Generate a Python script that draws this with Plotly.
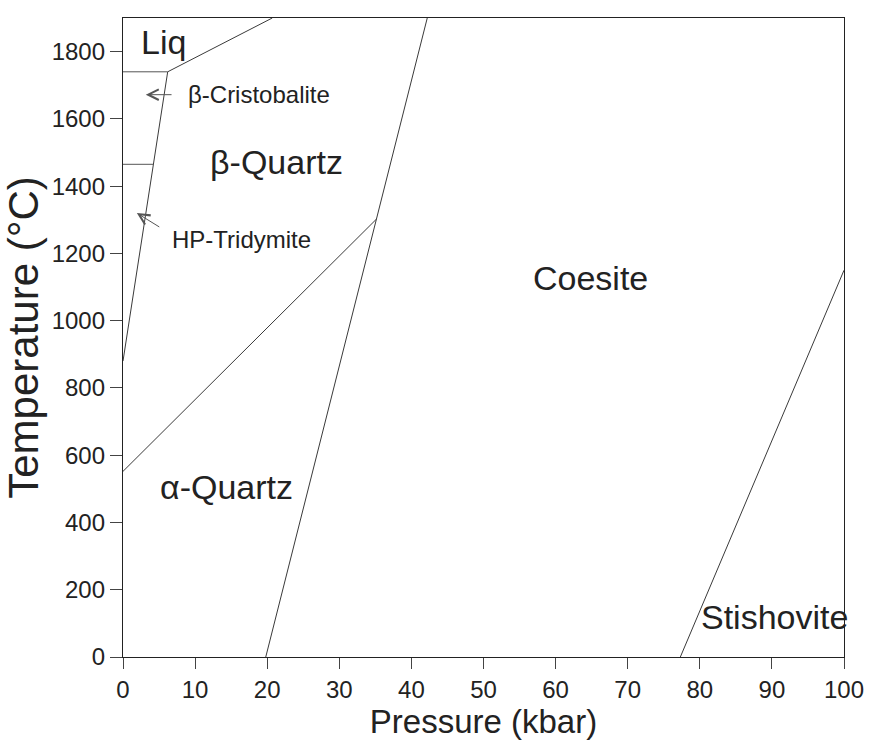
import plotly.graph_objects as go

# Phase boundaries (Pressure in kbar, Temperature in °C)
liq_P = [6.2, 20.7]
liq_T = [1740, 1900]
crist_liq_P = [0, 6.2]
crist_liq_T = [1740, 1740]
quartz_hi_P = [0, 6.2]
quartz_hi_T = [880, 1740]
trid_crist_P = [0, 4.2]
trid_crist_T = [1465, 1465]
alpha_beta_P = [0, 35.15]
alpha_beta_T = [552, 1302]
qz_coes_P = [19.8, 42.2]
qz_coes_T = [0, 1900]
coes_stish_P = [77.3, 100]
coes_stish_T = [0, 1150]

# Field labels
field_names = ["Liq", "β-Quartz", "Coesite", "α-Quartz", "Stishovite"]
field_P = [5.6, 21.3, 64.9, 14.4, 90.3]
field_T = [1829, 1471, 1127, 505, 120]

# Arrowed labels
small_names = ["β-Cristobalite", "HP-Tridymite"]
small_P = [8.78, 6.45]
small_T = [1673, 1242]
arrow_tip_P = [3.16, 1.92]
arrow_tip_T = [1672, 1320]
arrow_tail_P = [6.94, 5.24]
arrow_tail_T = [1672, 1276]

x_ticks = [0, 10, 20, 30, 40, 50, 60, 70, 80, 90, 100]
y_ticks = [0, 200, 400, 600, 800, 1000, 1200, 1400, 1600, 1800]

FONT = "Liberation Sans, Arial, sans-serif"

fig = go.Figure()
for P, T, c in [
    (liq_P, liq_T, "#3a3a3a"),
    (crist_liq_P, crist_liq_T, "#555555"),
    (quartz_hi_P, quartz_hi_T, "#3a3a3a"),
    (trid_crist_P, trid_crist_T, "#555555"),
    (alpha_beta_P, alpha_beta_T, "#3a3a3a"),
    (qz_coes_P, qz_coes_T, "#3a3a3a"),
    (coes_stish_P, coes_stish_T, "#3a3a3a"),
]:
    fig.add_trace(go.Scatter(x=P, y=T, mode="lines",
                             line=dict(color=c, width=1),
                             showlegend=False, hoverinfo="skip"))

annotations = []
for name, P, T in zip(field_names, field_P, field_T):
    annotations.append(dict(x=P, y=T, xref="x", yref="y", text=name,
                            showarrow=False, xanchor="center", yanchor="middle",
                            font=dict(family=FONT, size=34, color="#222222")))
for name, P, T in zip(small_names, small_P, small_T):
    annotations.append(dict(x=P, y=T, xref="x", yref="y", text=name,
                            showarrow=False, xanchor="left", yanchor="middle",
                            font=dict(family=FONT, size=24, color="#222222")))
for tp, tt, ap, at in zip(arrow_tip_P, arrow_tip_T, arrow_tail_P, arrow_tail_T):
    annotations.append(dict(x=tp, y=tt, xref="x", yref="y",
                            ax=ap, ay=at, axref="x", ayref="y",
                            text="", showarrow=True, arrowhead=5,
                            arrowsize=2.1, arrowwidth=1, arrowcolor="#555555"))

fig.update_layout(
    width=876, height=744,
    margin=dict(l=121, r=26, t=18, b=80),
    paper_bgcolor="white", plot_bgcolor="white",
    font=dict(family=FONT, color="#222222"),
    annotations=annotations,
    xaxis=dict(range=[0, 100], tickvals=x_ticks, ticks="outside", ticklen=11,
               tickwidth=1, tickcolor="#444444", showgrid=False, zeroline=False,
               showline=True, linecolor="#222222", linewidth=1.3, mirror=True,
               tickfont=dict(family=FONT, size=24, color="#222222"),
               title=dict(text="Pressure (kbar)", standoff=6,
                          font=dict(family=FONT, size=33, color="#222222"))),
    yaxis=dict(range=[0, 1900], tickvals=y_ticks, ticks="outside", ticklen=12,
               tickwidth=1, tickcolor="#444444", showgrid=False, zeroline=False,
               showline=True, linecolor="#222222", linewidth=1.3, mirror=True,
               tickfont=dict(family=FONT, size=24, color="#222222"),
               title=dict(text="Temperature (°C)", standoff=10,
                          font=dict(family=FONT, size=42, color="#222222"))),
)

fig.write_html("out.html")
